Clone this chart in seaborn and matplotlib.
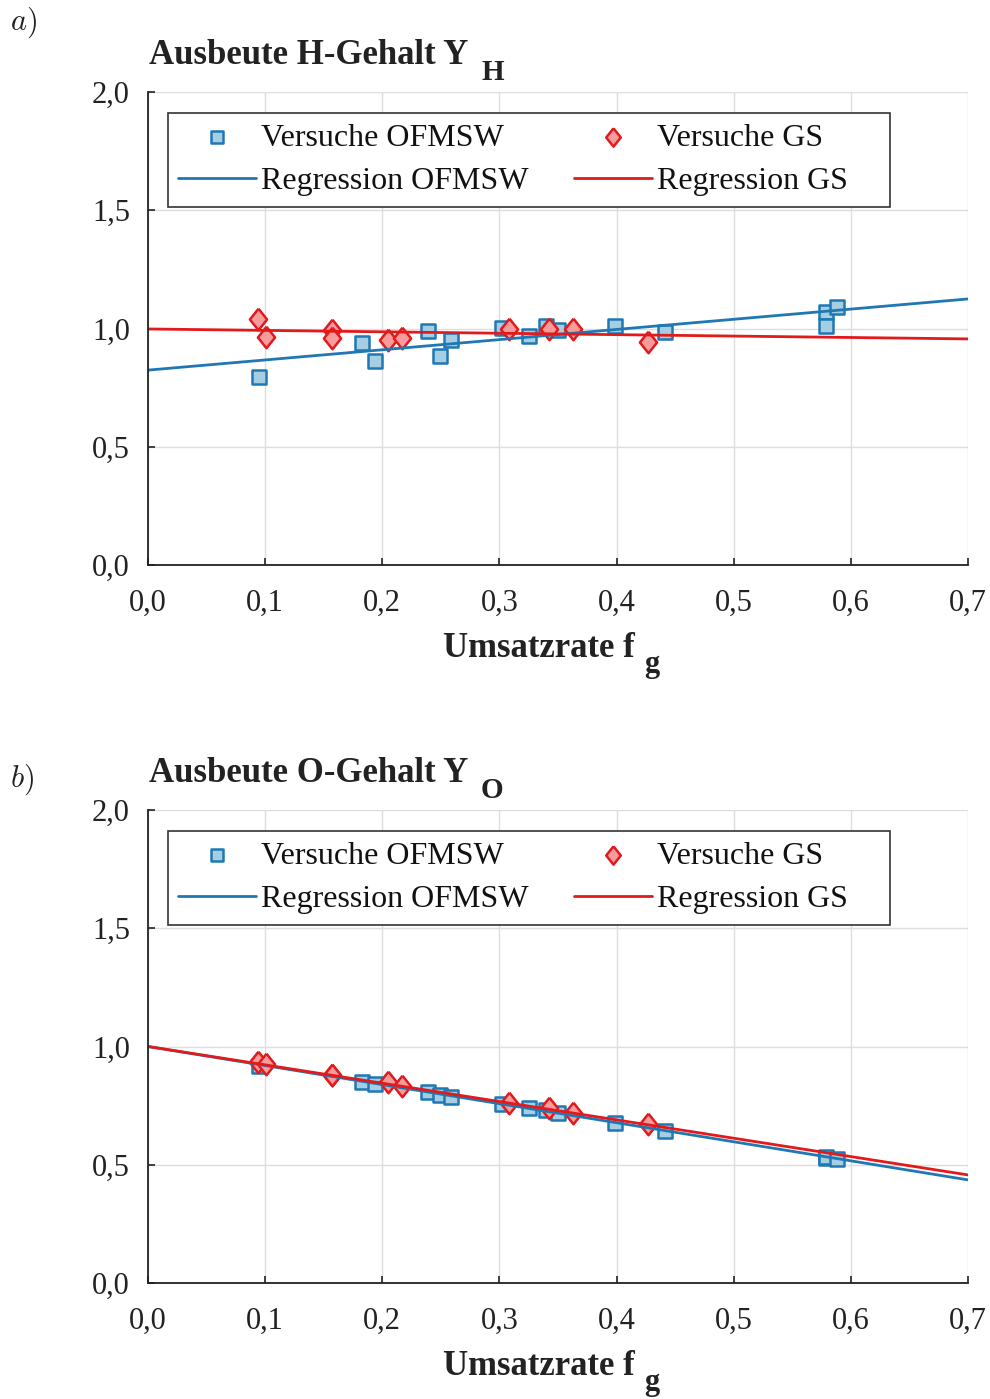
import matplotlib
matplotlib.use("Agg")
import numpy as np
import pandas as pd
import seaborn as sns
import matplotlib.pyplot as plt
from matplotlib.ticker import FixedLocator, FixedFormatter

# ---------------- data ----------------
fg_ofmsw = [0.095, 0.183, 0.194, 0.239, 0.249, 0.259, 0.302, 0.325, 0.340, 0.350,
            0.399, 0.441, 0.579, 0.579, 0.588]
yh_ofmsw = [0.795, 0.939, 0.863, 0.989, 0.884, 0.951, 1.002, 0.968, 1.010, 0.994,
            1.011, 0.985, 1.070, 1.010, 1.093]
yo_ofmsw = [0.918, 0.850, 0.841, 0.808, 0.795, 0.787, 0.757, 0.740, 0.731, 0.718,
            0.677, 0.643, 0.529, 0.531, 0.524]

fg_gs = [0.094, 0.101, 0.157, 0.157, 0.205, 0.217, 0.308, 0.342, 0.363, 0.427]
yh_gs = [1.040, 0.964, 0.994, 0.960, 0.951, 0.960, 0.998, 0.998, 0.998, 0.943]
yo_gs = [0.934, 0.926, 0.880, 0.878, 0.850, 0.833, 0.761, 0.740, 0.720, 0.672]

reg_fg = [0.0, 0.7]
reg_h_ofmsw = [0.824, 1.125]
reg_h_gs = [0.998, 0.956]
reg_o_ofmsw = [1.000, 0.436]
reg_o_gs = [1.000, 0.457]

x_ticks = [0.0, 0.1, 0.2, 0.3, 0.4, 0.5, 0.6, 0.7]
x_tick_labels = ["0,0", "0,1", "0,2", "0,3", "0,4", "0,5", "0,6", "0,7"]
y_ticks = [0.0, 0.5, 1.0, 1.5, 2.0]
y_tick_labels = ["0,0", "0,5", "1,0", "1,5", "2,0"]

titles = ["Ausbeute H-Gehalt Y", "Ausbeute O-Gehalt Y"]
title_subs = ["H", "O"]
panel_labels = [r"$a)$", r"$b)$"]
xlabel_main = "Umsatzrate f"
xlabel_sub = "g"
lbl_v_ofmsw = "Versuche OFMSW"
lbl_v_gs = "Versuche GS"
lbl_r_ofmsw = "Regression OFMSW"
lbl_r_gs = "Regression GS"

# ---------------- style ----------------
sns.set_theme(style="whitegrid")
plt.rcParams["font.family"] = ["Liberation Serif", "DejaVu Serif"]
plt.rcParams["mathtext.fontset"] = "cm"

BLUE = "#1f78b4"
BLUE_FACE = "#a6cee3"
RED = "#e31a1c"
RED_FACE = "#f79c9c"
DIAMOND = [(0, 1), (0.8, 0), (0, -1), (-0.8, 0), (0, 1)]

W, H = 990, 1399
fig = plt.figure(figsize=(W / 100, H / 100), dpi=100)


def fx(px):
    return px / W


def fy(py):
    return 1 - py / H


panels = [
    dict(top=92, yo=yh_ofmsw, yg=yh_gs, ro=reg_h_ofmsw, rg=reg_h_gs),
    dict(top=810, yo=yo_ofmsw, yg=yo_gs, ro=reg_o_ofmsw, rg=reg_o_gs),
]

ax_left, ax_right, ax_h = 148, 968, 473
label_y = [30, 787]
PAD_R = "\u2002\u2002"  # extra space at the right of the legend box

for i, p in enumerate(panels):
    top = p["top"]
    bottom = top + ax_h
    ax = fig.add_axes([fx(ax_left), fy(bottom), (ax_right - ax_left) / W, ax_h / H])

    df_o = pd.DataFrame({"fg": fg_ofmsw, "y": p["yo"]})
    df_g = pd.DataFrame({"fg": fg_gs, "y": p["yg"]})
    df_ro = pd.DataFrame({"fg": reg_fg, "y": p["ro"]})
    df_rg = pd.DataFrame({"fg": reg_fg, "y": p["rg"]})

    sns.scatterplot(data=df_o, x="fg", y="y", ax=ax, marker="s", s=115,
                    color=BLUE_FACE, edgecolor=BLUE, linewidth=1.8,
                    label=lbl_v_ofmsw, zorder=3)
    sns.scatterplot(data=df_g, x="fg", y="y", ax=ax, marker=DIAMOND, s=240,
                    color=RED_FACE, edgecolor=RED, linewidth=1.8,
                    label=lbl_v_gs, zorder=4)
    sns.lineplot(data=df_ro, x="fg", y="y", ax=ax, color=BLUE, linewidth=2,
                 label=lbl_r_ofmsw, zorder=5)
    sns.lineplot(data=df_rg, x="fg", y="y", ax=ax, color=RED, linewidth=2,
                 label=lbl_r_gs, zorder=6)

    ax.set_xlim(0, 0.7)
    ax.set_ylim(0, 2.0)
    ax.xaxis.set_major_locator(FixedLocator(x_ticks))
    ax.xaxis.set_major_formatter(FixedFormatter(x_tick_labels))
    ax.yaxis.set_major_locator(FixedLocator(y_ticks))
    ax.yaxis.set_major_formatter(FixedFormatter(y_tick_labels))
    ax.set_xlabel("")
    ax.set_ylabel("")
    ax.set_facecolor("white")
    ax.grid(True, color="#dddddd", linewidth=1.0)
    ax.set_axisbelow(True)
    for side in ["top", "right"]:
        ax.spines[side].set_visible(False)
    for side in ["left", "bottom"]:
        ax.spines[side].set_visible(True)
        ax.spines[side].set_color("#222222")
        ax.spines[side].set_linewidth(1.3)
        ax.spines[side].set_zorder(7)
    ax.tick_params(axis="x", direction="in", length=5, width=1.2, color="#222222",
                   labelsize=22, pad=17, bottom=True, top=False)
    ax.tick_params(axis="y", direction="in", length=5, width=1.2, color="#222222",
                   labelsize=22, pad=13, left=True, right=False)
    for lab in ax.get_xticklabels() + ax.get_yticklabels():
        lab.set_color("#222222")

    handles, labels = ax.get_legend_handles_labels()
    order = [labels.index(l) for l in [lbl_v_ofmsw, lbl_r_ofmsw, lbl_v_gs, lbl_r_gs]]
    leg_labels = [lbl_v_ofmsw, lbl_r_ofmsw, lbl_v_gs + PAD_R, lbl_r_gs + PAD_R]
    leg = ax.legend([handles[k] for k in order], leg_labels,
                    ncol=2, loc="upper left", bbox_to_anchor=(0.024, 0.956),
                    borderaxespad=0, fontsize=23, frameon=True, fancybox=False,
                    edgecolor="#333333", framealpha=1, handlelength=2.45,
                    handletextpad=0.15, columnspacing=1.4, labelspacing=0.45,
                    borderpad=0.33, markerscale=0.85)
    leg.get_frame().set_linewidth(1.2)
    for t in leg.get_texts():
        t.set_color("#111111")

    off = top - 92
    fig.text(fx(149), fy(64 + off), titles[i], fontsize=25, fontweight="bold",
             color="#222222", va="baseline", ha="left")
    fig.text(fx(481), fy(80 + off), title_subs[i], fontsize=21, fontweight="bold",
             color="#222222", va="baseline", ha="left")
    fig.text(fx(443), fy(657 + off), xlabel_main, fontsize=25, fontweight="bold",
             color="#222222", va="baseline", ha="left")
    fig.text(fx(644), fy(672 + off), xlabel_sub, fontsize=22, fontweight="bold",
             color="#222222", va="baseline", ha="left")
    fig.text(fx(10), fy(label_y[i]), panel_labels[i], fontsize=22,
             color="#222222", va="baseline", ha="left")

fig.savefig("out.png", dpi=100, facecolor="white")
